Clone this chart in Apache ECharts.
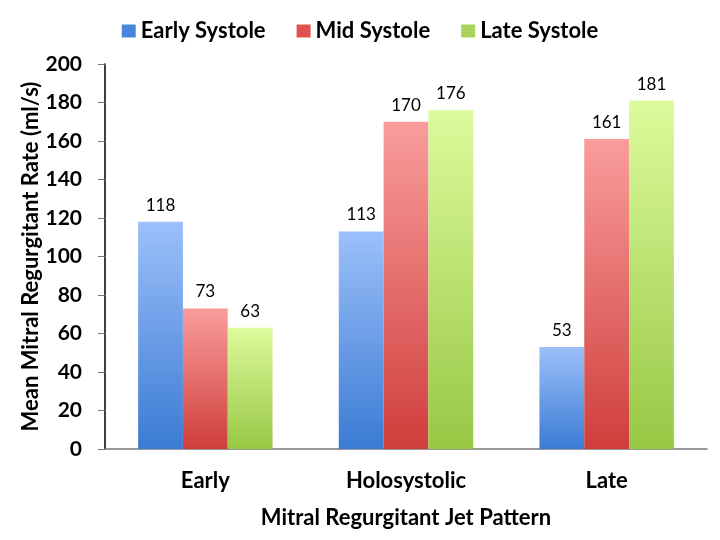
<!DOCTYPE html>
<html><head><meta charset="utf-8">
<script src="https://cdn.jsdelivr.net/npm/echarts@6/dist/echarts.min.js"></script>
<style>html,body{margin:0;padding:0;background:#fff}#c{width:720px;height:540px}</style>
</head><body><div id="c"></div>
<script>
const categories = ['Early', 'Holosystolic', 'Late'];
const seriesNames = ['Early Systole', 'Mid Systole', 'Late Systole'];
const earlySystole = [118, 113, 53];
const midSystole = [73, 170, 161];
const lateSystole = [63, 176, 181];
const yTicks = [0, 20, 40, 60, 80, 100, 120, 140, 160, 180, 200];

const gradTop = ['#9cc0fa', '#f99d9c', '#dcfb9c'];
const gradBot = ['#3b7bd3', '#cf3e3c', '#98c745'];
const legendCol = ['#4a86dc', '#e05252', '#a8d45a'];
const font = 'Lato, "Open Sans", sans-serif';
const values = [earlySystole, midSystole, lateSystole];

const chart = echarts.init(document.getElementById('c'));
chart.setOption({
  animation: false,
  textStyle: { fontFamily: font },
  legend: {
    top: 15, left: 'center', itemWidth: 14, itemHeight: 13, itemGap: 31,
    textStyle: { fontFamily: font, fontWeight: 'bold', fontSize: 22, color: '#000' },
    data: seriesNames.map((n, i) => ({ name: n, icon: 'rect', itemStyle: { color: legendCol[i] } }))
  },
  grid: { left: 105, right: 13, top: 64, bottom: 91 },
  xAxis: {
    type: 'category', data: categories,
    name: 'Mitral Regurgitant Jet Pattern', nameLocation: 'middle', nameGap: 58,
    nameMoveOverlap: false,
    nameTextStyle: { fontFamily: font, fontWeight: 'bold', fontSize: 22, color: '#000' },
    axisLine: { lineStyle: { color: '#777', width: 1.5 } },
    axisTick: { show: false },
    axisLabel: { fontFamily: font, fontWeight: 'bold', fontSize: 22, color: '#000', margin: 21 }
  },
  yAxis: {
    type: 'value', min: 0, max: 200, interval: 20,
    name: 'Mean Mitral Regurgitant Rate (ml/s)', nameLocation: 'middle', nameGap: 63, nameRotate: 90,
    nameMoveOverlap: false,
    nameTextStyle: { fontFamily: font, fontWeight: 'bold', fontSize: 22, color: '#000' },
    axisLine: { show: true, lineStyle: { color: '#000', width: 1.5 } },
    axisTick: { show: true, inside: false, length: 7, lineStyle: { color: '#777' } },
    splitLine: { show: false },
    axisLabel: { fontFamily: font, fontWeight: 'bold', fontSize: 21, color: '#000', margin: 23,
      formatter: v => yTicks.includes(v) ? String(v) : '' }
  },
  series: seriesNames.map((n, i) => ({
    name: n, type: 'bar', data: values[i], barGap: '0%', barCategoryGap: '33%',
    itemStyle: { color: new echarts.graphic.LinearGradient(0, 0, 0, 1, [
      { offset: 0, color: gradTop[i] }, { offset: 1, color: gradBot[i] }]) },
    label: { show: true, position: 'top', distance: 8, fontFamily: font, fontSize: 17, color: '#000' }
  }))
});
</script></body></html>
